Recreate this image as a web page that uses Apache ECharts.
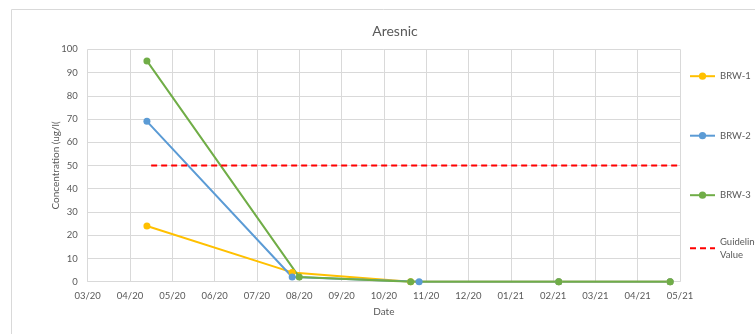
<!DOCTYPE html>
<html>
<head>
<meta charset="utf-8">
<script src="https://cdn.jsdelivr.net/npm/echarts@6/dist/echarts.min.js"></script>
<style>
html,body{margin:0;padding:0;background:#fff;}
#chart{width:755px;height:334px;}
</style>
</head>
<body>
<div id="chart"></div>
<script>
// ---- Data ----
const title = 'Aresnic';
const xTitle = 'Date';
const yTitle = 'Concentration (ug/l(';
const seriesNames = ['BRW-1', 'BRW-2', 'BRW-3', 'Guideline Value'];
const brw1Dates = ['2020-04-20', '2020-08-01', '2020-10-24', '2021-02-06', '2021-04-26'];
const brw1Values = [24, 4, 0, 0, 0];
const brw2Dates = ['2020-04-20', '2020-08-01', '2020-10-30', '2021-02-06', '2021-04-26'];
const brw2Values = [69, 2, 0, 0, 0];
const brw3Dates = ['2020-04-20', '2020-08-06', '2020-10-24', '2021-02-06', '2021-04-26'];
const brw3Values = [95, 2, 0, 0, 0];
const guideDates = ['2020-04-23', '2021-05-03'];
const guideValues = [50, 50];
const axisStartDate = '2020-03-09';
const axisEndDate = '2021-05-03';
const axisStepDays = 30;
const yMin = 0, yMax = 100, yStep = 10;

const DAY = 86400000;
const ts = s => new Date(s + 'T00:00:00Z').getTime();
const pairs = (d, v) => d.map((x, i) => [ts(x), v[i]]);
const pad2 = n => (n < 10 ? '0' : '') + n;
const fmtDate = v => { const d = new Date(v); return pad2(d.getUTCMonth() + 1) + '/' + pad2(d.getUTCFullYear() % 100); };

const FONT = 'Lato';
const TXT = '#595959';
const GRID = '#d9d9d9';

const colors = ['#FFC000', '#5B9BD5', '#70AD47', '#FF0000'];

function lineSeries(name, data, color) {
  return {
    name: name, type: 'line', data: data,
    symbol: 'circle', symbolSize: 7,
    itemStyle: { color: color },
    lineStyle: { color: color, width: 2 },
    animation: false
  };
}

const chart = echarts.init(document.getElementById('chart'), null, { renderer: 'canvas' });
chart.setOption({
  animation: false,
  textStyle: { fontFamily: FONT },
  graphic: [{
    type: 'rect', shape: { x: 11.5, y: 9.5, width: 800, height: 400 },
    style: { fill: 'none', stroke: GRID, lineWidth: 1 }, silent: true, z: -10
  }],
  title: {
    text: title, left: 390, top: 19, textAlign: 'center',
    textStyle: { fontFamily: FONT, fontSize: 14, fontWeight: 'normal', color: TXT }
  },
  grid: { left: 87.7, right: 75, top: 49.3, bottom: 52.3, containLabel: false },
  legend: [{
    data: seriesNames.slice(0, 3), orient: 'vertical', left: 689, top: 71.2, padding: 0,
    itemWidth: 25, itemHeight: 9, itemGap: 49.5,
    textStyle: { fontFamily: FONT, fontSize: 9.5, color: TXT }
  }, {
    data: [{ name: seriesNames[3], itemStyle: { color: 'rgba(0,0,0,0)', opacity: 0 } }],
    orient: 'vertical', left: 689, top: 229.2, padding: 0,
    itemWidth: 25, itemHeight: 9,
    formatter: n => n.replace(' ', '\n'),
    textStyle: { fontFamily: FONT, fontSize: 9.5, color: TXT, lineHeight: 13, padding: [12, 0, 0, 0] }
  }],
  xAxis: {
    type: 'value', min: ts(axisStartDate), max: ts(axisEndDate), interval: axisStepDays * DAY,
    name: xTitle, nameLocation: 'middle', nameGap: 25, nameMoveOverlap: false,
    nameTextStyle: { fontFamily: FONT, fontSize: 10, color: TXT },
    axisLine: { show: true, lineStyle: { color: GRID, width: 1 } },
    axisTick: { show: false },
    axisLabel: { formatter: fmtDate, fontFamily: FONT, fontSize: 9.5, color: TXT, margin: 9, showMaxLabel: true, showMinLabel: true },
    splitLine: { show: true, lineStyle: { color: GRID, width: 1 } }
  },
  yAxis: {
    type: 'value', min: yMin, max: yMax, interval: yStep,
    name: yTitle, nameLocation: 'middle', nameGap: 27, nameMoveOverlap: false,
    nameTextStyle: { fontFamily: FONT, fontSize: 10, color: TXT },
    axisLine: { show: false }, axisTick: { show: false },
    axisLabel: { fontFamily: FONT, fontSize: 9.5, color: TXT, margin: 10 },
    splitLine: { show: true, lineStyle: { color: GRID, width: 1 } }
  },
  series: [
    lineSeries(seriesNames[0], pairs(brw1Dates, brw1Values), colors[0]),
    lineSeries(seriesNames[1], pairs(brw2Dates, brw2Values), colors[1]),
    lineSeries(seriesNames[2], pairs(brw3Dates, brw3Values), colors[2]),
    {
      name: seriesNames[3], type: 'line', data: pairs(guideDates, guideValues),
      symbol: 'none', itemStyle: { color: colors[3] },
      lineStyle: { color: colors[3], width: 2, type: [6, 4] }, animation: false
    }
  ]
});
</script>
</body>
</html>
